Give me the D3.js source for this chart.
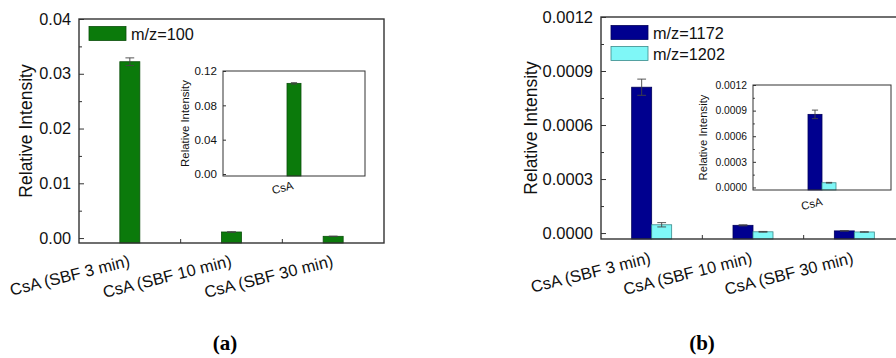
<!DOCTYPE html>
<html><head><meta charset="utf-8">
<script src="https://cdn.jsdelivr.net/npm/d3@7"></script>
<style>body{margin:0;background:#fff}svg{display:block}</style>
</head><body>
<svg id="c" width="896" height="358"></svg>
<script>
// ---------- data ----------
const categories = ["CsA (SBF 3 min)", "CsA (SBF 10 min)", "CsA (SBF 30 min)"];
const insetCategories = ["CsA"];
// panel (a): m/z=100
const valuesA = [0.0322, 0.00111, 0.00032];
const errorsA = [0.0007, 0.00004, 0.00003];
const insetValuesA = [0.1056];
const insetErrorsA = [0.0008];
// panel (b): m/z=1172 and m/z=1202
const values1172 = [0.00081, 0.000043, 0.000012];
const errors1172 = [0.000045, 0.000003, 0.000001];
const values1202 = [0.000046, 0.000007, 0.000006];
const errors1202 = [0.000012, 0.000002, 0.000001];
const insetValues1172 = [0.000856];
const insetErrors1172 = [0.00005];
const insetValues1202 = [0.000055];
const insetErrors1202 = [0.000004];
// ticks
const ticksA = [0, 0.01, 0.02, 0.03, 0.04];
const minorA = [0.005, 0.015, 0.025, 0.035];
const ticksInsetA = [0, 0.04, 0.08, 0.12];
const ticksB = [0, 0.0003, 0.0006, 0.0009, 0.0012];
const minorB = [0.00015, 0.00045, 0.00075, 0.00105];
const ticksInsetB = [0, 0.0003, 0.0006, 0.0009, 0.0012];
const minorInsetB = [0.00015, 0.00045, 0.00075, 0.00105];

const GREEN = "#0b7a0b", NAVY = "#00008f", CYAN = "#7ff7f7";
const svg = d3.select("#c");
const FONT = "Liberation Sans, Arial, sans-serif";

function panel(o) {
  const g = svg.append("g");
  const x = d3.scaleBand().domain(o.cats).range(o.xr).padding(0);
  const y = d3.scaleLinear().domain(o.yd).range(o.yr);
  const [x0, x1] = o.xr, [yb, yt] = o.yr;
  // bars
  const n = o.series.length;
  o.series.forEach((s, si) => {
    s.values.forEach((v, i) => {
      const cx = x(o.cats[i]) + x.bandwidth() / 2;
      const bx = cx - n * o.bw / 2 + si * o.bw;
      g.append("rect").attr("x", bx).attr("y", y(v)).attr("width", o.bw)
        .attr("height", y(o.yd[0]) - y(v)).attr("fill", s.color)
        .attr("stroke", s.stroke).attr("stroke-width", 0.8);
      const e = s.errors[i], ex = bx + o.bw / 2, cap = o.bw * 0.22;
      g.append("path").attr("d",
        `M${ex},${y(v + e)}V${y(v - e)}M${ex - cap},${y(v + e)}H${ex + cap}M${ex - cap},${y(v - e)}H${ex + cap}`)
        .attr("stroke", "#444").attr("stroke-width", 0.9).attr("fill", "none");
    });
  });
  // y axis
  const ya = d3.axisLeft(y).tickValues(o.ticks).tickFormat(d3.format(o.fmt))
    .tickSizeInner(-o.tl).tickSizeOuter(0).tickPadding(o.tl + 3);
  const ag = g.append("g").attr("transform", `translate(${x0},0)`).call(ya);
  ag.select(".domain").remove();
  ag.selectAll("line").attr("stroke", "#333").attr("stroke-width", 1);
  ag.selectAll("text").attr("font-family", FONT).attr("font-size", o.fs).attr("fill", "#111");
  if (o.minor) {
    const ma = d3.axisLeft(y).tickValues(o.minor).tickFormat("").tickSizeInner(-o.tl * 0.6).tickSizeOuter(0);
    const mg = g.append("g").attr("transform", `translate(${x0},0)`).call(ma);
    mg.select(".domain").remove();
    mg.selectAll("line").attr("stroke", "#333");
  }
  // x axis: ticks at category boundaries (inward)
  const bounds = o.cats.slice(1).map(c => x(c));
  bounds.forEach(b => g.append("line").attr("x1", b).attr("x2", b).attr("y1", yb).attr("y2", yb - o.tl * 0.8)
    .attr("stroke", "#333"));
  // category labels
  o.cats.forEach(c => {
    const cx = x(c) + x.bandwidth() / 2;
    g.append("text").attr("transform", `translate(${cx + o.lx},${yb + o.ly}) rotate(-14)`)
      .attr("text-anchor", "end").attr("font-family", FONT).attr("font-size", o.lfs)
      .attr("fill", "#111").text(c);
  });
  // frame
  g.append("rect").attr("x", x0).attr("y", yt).attr("width", x1 - x0).attr("height", yb - yt)
    .attr("fill", "none").attr("stroke", "#333").attr("stroke-width", o.sw);
  // y title
  g.append("text").attr("transform", `translate(${o.tx},${(yb + yt) / 2}) rotate(-90)`)
    .attr("text-anchor", "middle").attr("font-family", FONT).attr("font-size", o.tfs)
    .attr("fill", "#111").text("Relative Intensity");
  return g;
}

// panel (a) main
panel({cats: categories, xr: [79, 384], yd: [-0.0009, 0.04], yr: [243, 19], bw: 20,
  series: [{values: valuesA, errors: errorsA, color: GREEN, stroke: "#0a4f0a"}],
  ticks: ticksA, minor: minorA, fmt: ".2f", tl: 5, fs: 16.3, lfs: 16.5, lx: 1, ly: 23,
  sw: 1.4, tx: 32, tfs: 17.5});
// inset (a)
panel({cats: insetCategories, xr: [223, 365], yd: [-0.0023, 0.12], yr: [176, 71], bw: 14,
  series: [{values: insetValuesA, errors: insetErrorsA, color: GREEN, stroke: "#0a4f0a"}],
  ticks: ticksInsetA, minor: null, fmt: ".2f", tl: 3, fs: 11.6, lfs: 11.5, lx: 0, ly: 13,
  sw: 1, tx: 189, tfs: 11.4});
// panel (b) main
panel({cats: categories, xr: [601, 905], yd: [-0.000033, 0.0012], yr: [239, 17], bw: 20,
  series: [{values: values1172, errors: errors1172, color: NAVY, stroke: "#00005a"},
           {values: values1202, errors: errors1202, color: CYAN, stroke: "#3a8a8a"}],
  ticks: ticksB, minor: minorB, fmt: ".4f", tl: 5, fs: 16.5, lfs: 16.5, lx: 0, ly: 24,
  sw: 1.4, tx: 537, tfs: 17.5});
// inset (b)
panel({cats: insetCategories, xr: [753, 891], yd: [-0.00003, 0.0012], yr: [190, 85], bw: 14,
  series: [{values: insetValues1172, errors: insetErrors1172, color: NAVY, stroke: "#00005a"},
           {values: insetValues1202, errors: insetErrors1202, color: CYAN, stroke: "#3a8a8a"}],
  ticks: ticksInsetB, minor: minorInsetB, fmt: ".4f", tl: 3, fs: 10.3, lfs: 11.3, lx: 1, ly: 15,
  sw: 1, tx: 707, tfs: 11.3});

// legends
const legA = [{label: "m/z=100", color: GREEN, stroke: "#0a4f0a"}];
const legB = [{label: "m/z=1172", color: NAVY, stroke: "#00005a"}, {label: "m/z=1202", color: CYAN, stroke: "#3a8a8a"}];
function legend(items, lx, ly, dy) {
  items.forEach((it, i) => {
    svg.append("rect").attr("x", lx).attr("y", ly + i * dy).attr("width", 37).attr("height", 14)
      .attr("fill", it.color).attr("stroke", it.stroke).attr("stroke-width", 0.8);
    svg.append("text").attr("x", lx + 42).attr("y", ly + i * dy + 13.5).attr("font-family", FONT)
      .attr("font-size", 16.3).attr("fill", "#111").text(it.label);
  });
}
legend(legA, 89, 26.5, 21);
legend(legB, 611, 25.5, 21);

// panel labels
[["(a)", 225], ["(b)", 702]].forEach(([t, x]) => {
  svg.append("text").attr("x", x).attr("y", 350).attr("text-anchor", "middle")
    .attr("font-family", "Liberation Serif, Times New Roman, serif").attr("font-weight", "bold")
    .attr("font-size", 21).attr("fill", "#000").text(t);
});
</script>
</body></html>
